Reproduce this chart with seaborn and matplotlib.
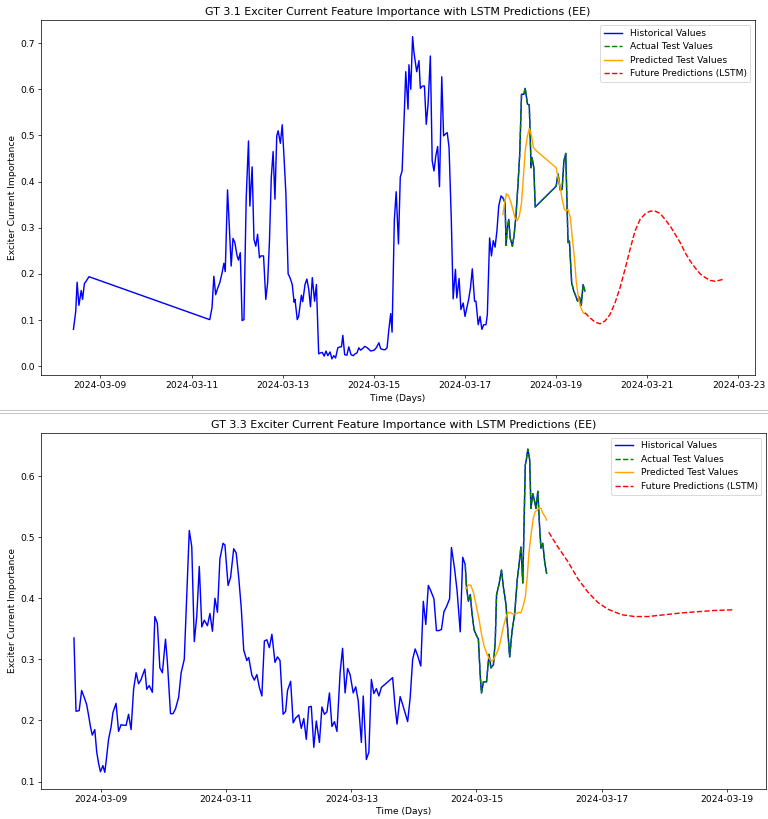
import numpy as np
import pandas as pd
import matplotlib
matplotlib.use("Agg")
import matplotlib.pyplot as plt
import matplotlib.dates as mdates
from matplotlib.lines import Line2D
import seaborn as sns

# ---------------- data (day of March 2024, value) ----------------
# GT 3.1
gt31_hist_day = [8.41, 8.46, 8.49, 8.53, 8.58, 8.61, 8.65, 8.70, 8.75, 11.40, 11.45, 11.49, 11.53, 11.57,
                 11.62, 11.67, 11.71, 11.74, 11.79, 11.82, 11.87, 11.91, 11.95, 12.00, 12.03, 12.07, 12.11,
                 12.15, 12.20, 12.25, 12.28, 12.33, 12.37, 12.41, 12.45, 12.49, 12.52, 12.58, 12.63, 12.67,
                 12.71, 12.75, 12.79, 12.83, 12.87, 12.90, 12.95, 12.99, 13.03, 13.07, 13.12, 13.16, 13.21,
                 13.25, 13.27, 13.32, 13.35, 13.41, 13.44, 13.49, 13.53, 13.57, 13.61, 13.65, 13.70, 13.74,
                 13.79, 13.83, 13.87, 13.91, 13.95, 13.99, 14.04, 14.08, 14.12, 14.16, 14.21, 14.25, 14.29,
                 14.32, 14.36, 14.41, 14.45, 14.50, 14.55, 14.59, 14.63, 14.67, 14.71, 14.75, 14.80, 14.84,
                 14.88, 14.93, 14.97, 15.01, 15.06, 15.11, 15.15, 15.21, 15.25, 15.29, 15.33, 15.37, 15.40,
                 15.45, 15.49, 15.54, 15.58, 15.62, 15.67, 15.70, 15.75, 15.77, 15.81, 15.85, 15.88, 15.94,
                 15.99, 16.02, 16.07, 16.11, 16.15, 16.19, 16.24, 16.28, 16.32, 16.36, 16.40, 16.44, 16.49,
                 16.53, 16.57, 16.61, 16.65, 16.70, 16.74, 16.79, 16.82, 16.87, 16.91, 16.96, 17.00, 17.04,
                 17.08, 17.12, 17.16, 17.21, 17.24, 17.29, 17.33, 17.37, 17.41, 17.46, 17.49, 17.54, 17.58,
                 17.62, 17.66, 17.70, 17.74, 17.79]
gt31_hist_val = [0.080, 0.119, 0.182, 0.132, 0.164, 0.145, 0.179, 0.186, 0.194, 0.101, 0.127, 0.195, 0.155,
                 0.168, 0.181, 0.202, 0.223, 0.205, 0.382, 0.322, 0.217, 0.277, 0.268, 0.239, 0.230, 0.246,
                 0.099, 0.101, 0.365, 0.488, 0.347, 0.432, 0.275, 0.260, 0.286, 0.235, 0.239, 0.239, 0.145,
                 0.181, 0.271, 0.409, 0.465, 0.362, 0.499, 0.510, 0.483, 0.523, 0.452, 0.375, 0.200, 0.192,
                 0.177, 0.139, 0.145, 0.101, 0.108, 0.154, 0.140, 0.177, 0.189, 0.168, 0.129, 0.192, 0.141,
                 0.177, 0.027, 0.029, 0.030, 0.022, 0.033, 0.023, 0.031, 0.016, 0.023, 0.018, 0.040, 0.042,
                 0.042, 0.067, 0.025, 0.024, 0.042, 0.025, 0.023, 0.027, 0.029, 0.040, 0.035, 0.038, 0.043,
                 0.041, 0.038, 0.033, 0.034, 0.035, 0.041, 0.051, 0.038, 0.036, 0.036, 0.040, 0.080, 0.114,
                 0.074, 0.318, 0.378, 0.265, 0.410, 0.423, 0.553, 0.638, 0.557, 0.653, 0.600, 0.714, 0.680,
                 0.638, 0.662, 0.602, 0.607, 0.607, 0.524, 0.568, 0.672, 0.445, 0.423, 0.456, 0.476, 0.389,
                 0.627, 0.499, 0.503, 0.506, 0.474, 0.315, 0.146, 0.210, 0.148, 0.190, 0.123, 0.137, 0.108,
                 0.127, 0.145, 0.170, 0.211, 0.141, 0.141, 0.090, 0.108, 0.080, 0.090, 0.090, 0.112, 0.278,
                 0.239, 0.272, 0.258, 0.293, 0.347, 0.369]
gt31_test_day = [17.83, 17.88, 17.90, 17.93, 17.96, 17.99, 18.04, 18.08, 18.12, 18.16, 18.20, 18.24, 18.29,
                 18.32, 18.37, 18.41, 18.45, 18.47, 18.51, 18.54, 19.00, 19.04, 19.09, 19.13, 19.17, 19.21,
                 19.26, 19.29, 19.34, 19.38, 19.43, 19.47, 19.51, 19.55, 19.59, 19.63]
gt31_test_val = [0.365, 0.354, 0.262, 0.300, 0.318, 0.278, 0.260, 0.286, 0.329, 0.390, 0.459, 0.589, 0.589,
                 0.602, 0.568, 0.566, 0.430, 0.452, 0.430, 0.345, 0.390, 0.417, 0.382, 0.383, 0.445, 0.461,
                 0.268, 0.271, 0.181, 0.165, 0.152, 0.141, 0.150, 0.132, 0.177, 0.163]
gt31_pred_day = [17.83, 17.87, 17.91, 17.96, 18.01, 18.06, 18.10, 18.15, 18.19, 18.24, 18.28, 18.32, 18.37,
                 18.41, 18.46, 18.50, 18.54, 19.00, 19.04, 19.09, 19.13, 19.18, 19.22, 19.26, 19.31, 19.35,
                 19.40, 19.44, 19.49, 19.53, 19.59, 19.62]
gt31_pred_val = [0.329, 0.354, 0.374, 0.369, 0.354, 0.336, 0.320, 0.316, 0.325, 0.354, 0.409, 0.466, 0.499,
                 0.515, 0.499, 0.474, 0.469, 0.430, 0.409, 0.387, 0.362, 0.340, 0.336, 0.340, 0.322, 0.282,
                 0.235, 0.184, 0.148, 0.130, 0.116, 0.114]
gt31_future_day = [19.63, 19.74, 19.85, 19.96, 20.07, 20.18, 20.29, 20.40, 20.51, 20.62, 20.73, 20.84, 20.95,
                   21.06, 21.17, 21.28, 21.39, 21.50, 21.61, 21.72, 21.83, 21.94, 22.05, 22.16, 22.27, 22.38,
                   22.49, 22.65]
gt31_future_val = [0.116, 0.105, 0.096, 0.092, 0.098, 0.112, 0.137, 0.170, 0.210, 0.253, 0.293, 0.318, 0.330,
                   0.336, 0.336, 0.331, 0.318, 0.304, 0.286, 0.268, 0.246, 0.228, 0.213, 0.200, 0.192, 0.186,
                   0.184, 0.188]

# GT 3.3
gt33_hist_day = [8.567, 8.60, 8.65, 8.69, 8.73, 8.77, 8.80, 8.83, 8.86, 8.90, 8.93, 8.96, 8.99, 9.03, 9.06,
                 9.09, 9.12, 9.16, 9.19, 9.24, 9.28, 9.32, 9.36, 9.40, 9.44, 9.48, 9.52, 9.56, 9.60, 9.64,
                 9.66, 9.70, 9.73, 9.77, 9.82, 9.86, 9.90, 9.94, 9.98, 10.03, 10.06, 10.11, 10.15, 10.19,
                 10.24, 10.28, 10.33, 10.37, 10.41, 10.45, 10.49, 10.53, 10.57, 10.61, 10.65, 10.70, 10.74,
                 10.78, 10.82, 10.86, 10.90, 10.95, 10.98, 11.03, 11.07, 11.12, 11.16, 11.20, 11.24, 11.28,
                 11.33, 11.36, 11.41, 11.45, 11.49, 11.53, 11.57, 11.61, 11.65, 11.69, 11.73, 11.78, 11.82,
                 11.86, 11.91, 11.95, 11.98, 12.03, 12.07, 12.11, 12.16, 12.20, 12.24, 12.28, 12.32, 12.36,
                 12.40, 12.44, 12.49, 12.53, 12.57, 12.61, 12.65, 12.69, 12.73, 12.77, 12.82, 12.86, 12.90,
                 12.94, 12.98, 13.03, 13.07, 13.11, 13.16, 13.19, 13.24, 13.28, 13.32, 13.36, 13.40, 13.44,
                 13.48, 13.66, 13.70, 13.73, 13.78, 13.82, 13.86, 13.90, 13.94, 13.98, 14.02, 14.06, 14.11,
                 14.15, 14.19, 14.23, 14.27, 14.32, 14.36, 14.40, 14.44, 14.48, 14.52, 14.57, 14.60, 14.65,
                 14.69, 14.74, 14.78]
gt33_hist_val = [0.335, 0.215, 0.216, 0.249, 0.238, 0.226, 0.209, 0.190, 0.176, 0.185, 0.149, 0.130, 0.116,
                 0.126, 0.115, 0.141, 0.169, 0.189, 0.213, 0.228, 0.182, 0.193, 0.192, 0.192, 0.210, 0.185,
                 0.251, 0.278, 0.260, 0.267, 0.273, 0.284, 0.251, 0.257, 0.246, 0.370, 0.359, 0.286, 0.278,
                 0.333, 0.296, 0.211, 0.211, 0.219, 0.238, 0.278, 0.300, 0.404, 0.511, 0.484, 0.329, 0.371,
                 0.452, 0.353, 0.364, 0.355, 0.375, 0.346, 0.400, 0.377, 0.465, 0.490, 0.487, 0.421, 0.434,
                 0.481, 0.474, 0.434, 0.385, 0.315, 0.298, 0.303, 0.274, 0.266, 0.275, 0.254, 0.240, 0.330,
                 0.332, 0.319, 0.341, 0.295, 0.304, 0.298, 0.210, 0.215, 0.249, 0.264, 0.196, 0.204, 0.209,
                 0.187, 0.203, 0.169, 0.222, 0.223, 0.156, 0.199, 0.164, 0.222, 0.210, 0.214, 0.245, 0.190,
                 0.198, 0.182, 0.278, 0.318, 0.245, 0.285, 0.275, 0.245, 0.255, 0.232, 0.164, 0.240, 0.136,
                 0.148, 0.267, 0.244, 0.252, 0.240, 0.254, 0.270, 0.221, 0.194, 0.239, 0.226, 0.212, 0.198,
                 0.237, 0.300, 0.317, 0.306, 0.289, 0.395, 0.357, 0.421, 0.412, 0.399, 0.347, 0.347, 0.349,
                 0.378, 0.386, 0.399, 0.483, 0.448, 0.412, 0.345, 0.467]
gt33_test_day = [14.82, 14.84, 14.87, 14.90, 14.93, 14.96, 14.99, 15.03, 15.06, 15.08, 15.11, 15.16, 15.20,
                 15.23, 15.27, 15.30, 15.32, 15.36, 15.40, 15.43, 15.47, 15.50, 15.53, 15.57, 15.61, 15.65,
                 15.68, 15.71, 15.74, 15.78, 15.80, 15.82, 15.85, 15.87, 15.90, 15.93, 15.95, 15.98, 16.01,
                 16.03, 16.06, 16.09, 16.12]
gt33_test_val = [0.455, 0.418, 0.395, 0.406, 0.374, 0.349, 0.341, 0.333, 0.273, 0.245, 0.263, 0.263, 0.308,
                 0.286, 0.291, 0.330, 0.405, 0.423, 0.446, 0.418, 0.391, 0.347, 0.304, 0.348, 0.374, 0.429,
                 0.455, 0.484, 0.425, 0.618, 0.629, 0.644, 0.627, 0.547, 0.571, 0.558, 0.547, 0.575, 0.514,
                 0.482, 0.490, 0.459, 0.441]
gt33_pred_day = [14.83, 14.87, 14.91, 14.95, 14.99, 15.04, 15.08, 15.12, 15.17, 15.21, 15.25, 15.29, 15.34,
                 15.38, 15.42, 15.47, 15.51, 15.55, 15.59, 15.64, 15.68, 15.71, 15.74, 15.78, 15.81, 15.84,
                 15.88, 15.91, 15.94, 15.97, 16.00, 16.03, 16.06, 16.10, 16.12]
gt33_pred_val = [0.415, 0.422, 0.421, 0.410, 0.391, 0.366, 0.341, 0.322, 0.308, 0.300, 0.297, 0.303, 0.314,
                 0.328, 0.349, 0.369, 0.377, 0.376, 0.374, 0.375, 0.377, 0.376, 0.385, 0.402, 0.434, 0.476,
                 0.511, 0.532, 0.542, 0.544, 0.548, 0.547, 0.539, 0.533, 0.528]
gt33_future_day = [16.155, 16.30, 16.46, 16.62, 16.78, 16.94, 17.10, 17.32, 17.53, 17.74, 18.01, 18.28,
                   18.54, 18.81, 19.10]
gt33_future_val = [0.508, 0.484, 0.460, 0.432, 0.410, 0.393, 0.382, 0.373, 0.370, 0.370, 0.373, 0.376,
                   0.378, 0.380, 0.381]

titles = ["GT 3.1 Exciter Current Feature Importance with LSTM Predictions (EE)",
          "GT 3.3 Exciter Current Feature Importance with LSTM Predictions (EE)"]
x_label = "Time (Days)"
y_label = "Exciter Current Importance"

BASE = pd.Timestamp("2024-03-01")


def to_time(days):
    return BASE + pd.to_timedelta(np.asarray(days, dtype=float) - 1.0, unit="D")


plt.rcParams["font.size"] = 10.3
plt.rcParams["lines.linewidth"] = 1.6

fig = plt.figure(figsize=(12, 819 / 64), dpi=64)
ax_top = fig.add_axes([41 / 768, 1 - 375 / 819, (755 - 41) / 768, (375 - 20.5) / 819])
ax_bot = fig.add_axes([41 / 768, 1 - 788.5 / 819, (766 - 41) / 768, (788.5 - 433) / 819])

panels = [
    (ax_top, gt31_hist_day, gt31_hist_val, gt31_test_day, gt31_test_val, gt31_pred_day, gt31_pred_val,
     gt31_future_day, gt31_future_val, titles[0]),
    (ax_bot, gt33_hist_day, gt33_hist_val, gt33_test_day, gt33_test_val, gt33_pred_day, gt33_pred_val,
     gt33_future_day, gt33_future_val, titles[1]),
]

for ax, hd, hv, td, tv, pdy, pv, fd, fv, title in panels:
    all_d = list(hd) + list(td)
    all_v = list(hv) + list(tv)
    sns.lineplot(x=to_time(all_d), y=all_v, ax=ax, color="blue", label="Historical Values",
                 estimator=None, sort=False)
    sns.lineplot(x=to_time(td), y=tv, ax=ax, color="green", linestyle="--", label="Actual Test Values",
                 estimator=None, sort=False)
    sns.lineplot(x=to_time(pdy), y=pv, ax=ax, color="orange", label="Predicted Test Values",
                 estimator=None, sort=False)
    sns.lineplot(x=to_time(fd), y=fv, ax=ax, color="red", linestyle="--", label="Future Predictions (LSTM)",
                 estimator=None, sort=False)
    ax.set_title(title)
    ax.set_xlabel(x_label)
    ax.set_ylabel(y_label)
    ax.xaxis.set_major_locator(mdates.DayLocator(bymonthday=range(1, 32, 2)))
    ax.xaxis.set_major_formatter(mdates.DateFormatter("%Y-%m-%d"))
    ax.legend(loc="upper right")

# separator between the two panels
for yy in (1 - 410 / 819, 1 - 413.3 / 819):
    fig.add_artist(Line2D([0, 1], [yy, yy], transform=fig.transFigure, color="#c8c8c8", lw=1.2))

fig.savefig("out.png", dpi=64)
